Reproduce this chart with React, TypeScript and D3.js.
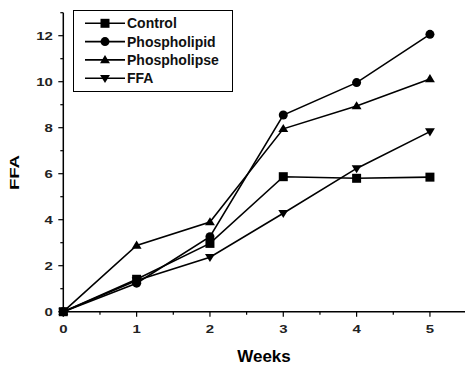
import { useEffect, useRef } from 'react';
import * as d3 from 'd3';

const weeks = [0, 1, 2, 3, 4, 5];
const control = [0, 1.41, 2.97, 5.87, 5.8, 5.85];
const phospholipid = [0, 1.24, 3.26, 8.55, 9.96, 12.06];
const phospholipse = [0, 2.88, 3.9, 7.95, 8.94, 10.12];
const ffa = [0, 1.36, 2.37, 4.28, 6.23, 7.83];

const seriesNames = ['Control', 'Phospholipid', 'Phospholipse', 'FFA'];
const seriesValues = [control, phospholipid, phospholipse, ffa];
const markerTypes = ['square', 'circle', 'triangle', 'down'];

const xTicks = [0, 1, 2, 3, 4, 5];
const yTicks = [0, 2, 4, 6, 8, 10, 12];

const W = 465;
const H = 366;

function markerPath(type: string, size: number) {
  if (type === 'square') return d3.symbol(d3.symbolSquare, size * size)();
  if (type === 'circle') return d3.symbol(d3.symbolCircle, Math.PI * (size / 2) ** 2)();
  const h = size * 0.9;
  const w = size * 1.1;
  if (type === 'triangle') return `M0,${-h * 0.6}L${w / 2},${h * 0.4}L${-w / 2},${h * 0.4}Z`;
  return `M0,${h * 0.6}L${w / 2},${-h * 0.4}L${-w / 2},${-h * 0.4}Z`;
}

export default function App() {
  const ref = useRef<SVGSVGElement>(null);

  useEffect(() => {
    if (!ref.current) return;
    const svg = d3.select(ref.current);
    svg.selectAll('*').remove();

    const font = '"Liberation Sans", Arial, sans-serif';
    const x = d3.scaleLinear().domain([0, 5.5]).range([63.3, 466.6]);
    const y = d3.scaleLinear().domain([0, 13]).range([311.7, 12.7]);

    // axes
    const xAxis = svg.append('g').attr('transform', `translate(0,${y(0)})`);
    xAxis.append('line').attr('x1', x(0)).attr('x2', W).attr('stroke', '#000').attr('stroke-width', 1.5);
    d3.range(0, 5.51, 0.5).forEach(v => {
      const major = Number.isInteger(v);
      xAxis.append('line')
        .attr('x1', x(v)).attr('x2', x(v))
        .attr('y1', 0).attr('y2', major ? 5 : 3)
        .attr('stroke', '#000').attr('stroke-width', 1.2);
    });
    xAxis.selectAll('text.tick').data(xTicks).enter().append('text')
      .attr('transform', d => `translate(${x(d)},21.5) scale(1.3,1)`)
      .attr('text-anchor', 'middle')
      .attr('font-family', font).attr('font-weight', 'bold').attr('font-size', 11.5)
      .attr('fill', '#222')
      .text(d => d);

    const yAxis = svg.append('g').attr('transform', `translate(${x(0)},0)`);
    yAxis.append('line').attr('y1', y(0)).attr('y2', y(13)).attr('stroke', '#000').attr('stroke-width', 1.5);
    d3.range(0, 13.01, 1).forEach(v => {
      const major = v % 2 === 0;
      yAxis.append('line')
        .attr('y1', y(v)).attr('y2', y(v))
        .attr('x1', 0).attr('x2', major ? -5 : -3)
        .attr('stroke', '#000').attr('stroke-width', 1.2);
    });
    yAxis.selectAll('text.tick').data(yTicks).enter().append('text')
      .attr('transform', d => `translate(-10.5,${y(d) + 4.2}) scale(1.3,1)`)
      .attr('text-anchor', 'end')
      .attr('font-family', font).attr('font-weight', 'bold').attr('font-size', 11.5)
      .attr('fill', '#222')
      .text(d => d);

    svg.append('text')
      .attr('x', 264).attr('y', 362)
      .attr('text-anchor', 'middle')
      .attr('font-family', font).attr('font-weight', 'bold').attr('font-size', 17)
      .text('Weeks');
    svg.append('text')
      .attr('transform', `translate(18.5,172.5) rotate(-90)`)
      .attr('text-anchor', 'middle')
      .attr('font-family', font).attr('font-weight', 'bold').attr('font-size', 12.5)
      .attr('textLength', 35).attr('lengthAdjust', 'spacingAndGlyphs')
      .text('FFA');

    // series
    const line = d3.line<number>().x((_, i) => x(weeks[i])).y(d => y(d));
    seriesValues.forEach((vals, si) => {
      svg.append('path')
        .attr('d', line(vals))
        .attr('fill', 'none').attr('stroke', '#000').attr('stroke-width', 1.6);
      svg.selectAll(`path.m${si}`).data(vals).enter().append('path')
        .attr('transform', (d, i) => `translate(${x(weeks[i])},${y(d)})`)
        .attr('d', markerPath(markerTypes[si], 9))
        .attr('fill', '#000');
    });

    // legend
    const lg = svg.append('g');
    lg.append('rect')
      .attr('x', 73.5).attr('y', 10.5).attr('width', 159).attr('height', 81)
      .attr('fill', '#fff').attr('stroke', '#000').attr('stroke-width', 1);
    seriesNames.forEach((name, i) => {
      const cy = 23.3 + i * 18.3;
      lg.append('line').attr('x1', 85).attr('x2', 125).attr('y1', cy).attr('y2', cy)
        .attr('stroke', '#000').attr('stroke-width', 1.6);
      lg.append('path')
        .attr('transform', `translate(105,${cy})`)
        .attr('d', markerPath(markerTypes[i], 9))
        .attr('fill', '#000');
      lg.append('text')
        .attr('x', 127).attr('y', cy + 5)
        .attr('font-family', font).attr('font-weight', 'bold').attr('font-size', 14)
        .attr('fill', '#111')
        .text(name);
    });
  }, []);

  return (
    <svg
      ref={ref}
      width={W}
      height={H}
      style={{ position: 'absolute', left: 0, top: 0, background: '#fff' }}
    />
  );
}
